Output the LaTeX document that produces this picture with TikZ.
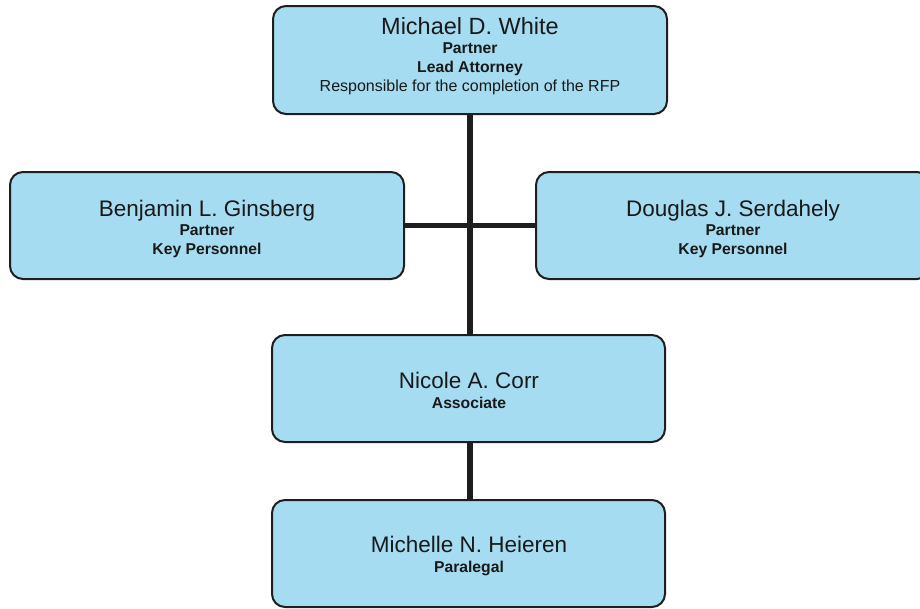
\documentclass[tikz,border=0pt]{standalone}
\usepackage{fontspec}
\setmainfont{Liberation Sans}
\usetikzlibrary{backgrounds}
\definecolor{boxfill}{RGB}{166,220,242}
\definecolor{boxline}{RGB}{30,30,30}
\begin{document}
\begin{tikzpicture}[x=1pt,y=-1pt,
  box/.style={draw=boxline, line width=2pt, fill=boxfill, rounded corners=13pt, inner sep=0pt},
  conn/.style={draw=boxline, line width=5.5pt},
  nm/.style={anchor=base, inner sep=0pt, font=\fontsize{22.5}{26}\selectfont, text=black!90},
  bignm/.style={anchor=base, inner sep=0pt, font=\fontsize{23.5}{27}\selectfont, text=black!90},
  role/.style={anchor=base, inner sep=0pt, font=\bfseries\fontsize{15.7}{18}\selectfont, text=black!90},
  plain/.style={anchor=base, inner sep=0pt, font=\fontsize{16}{19}\selectfont, text=black!90}]
\useasboundingbox (0,0) rectangle (920,608);
\clip (0,0) rectangle (920,608);
% boxes
\node[box, minimum width=394pt, minimum height=108pt] (white) at (470,60) {};
\node[box, minimum width=394pt, minimum height=107pt] (gins) at (207,225.5) {};
\node[box, minimum width=394pt, minimum height=107pt] (serd) at (733,225.5) {};
\node[box, minimum width=393pt, minimum height=107pt] (corr) at (468.5,388.5) {};
\node[box, minimum width=393pt, minimum height=107pt] (heie) at (468.5,553.5) {};
% connectors
\coordinate (j) at (470,225.5);
\begin{pgfonlayer}{background}
\draw[conn] (white.south -| j) -- (corr.north -| j);
\draw[conn] (gins.east) -- (serd.west);
\draw[conn] (corr.south -| j) -- (heie.north -| j);
\end{pgfonlayer}
% texts
\node[bignm] (w1) at (470,34) {Michael D. White};
\node[role] (w2) at (470,53) {Partner};
\node[role] (w3) at (470,72) {Lead Attorney};
\node[plain] (w4) at (470,91) {Responsible for the completion of the RFP};
\node[nm] (g1) at (207,216) {Benjamin L. Ginsberg};
\node[role] (g2) at (207,235) {Partner};
\node[role] (g3) at (207,254) {Key Personnel};
\node[nm] (s1) at (733,216) {Douglas J. Serdahely};
\node[role] (s2) at (733,235) {Partner};
\node[role] (s3) at (733,254) {Key Personnel};
\node[nm] (c1) at (469,388) {Nicole A. Corr};
\node[role] (c2) at (469,408) {Associate};
\node[nm] (h1) at (469,552) {Michelle N. Heieren};
\node[role] (h2) at (469,572) {Paralegal};
\end{tikzpicture}
\end{document}
